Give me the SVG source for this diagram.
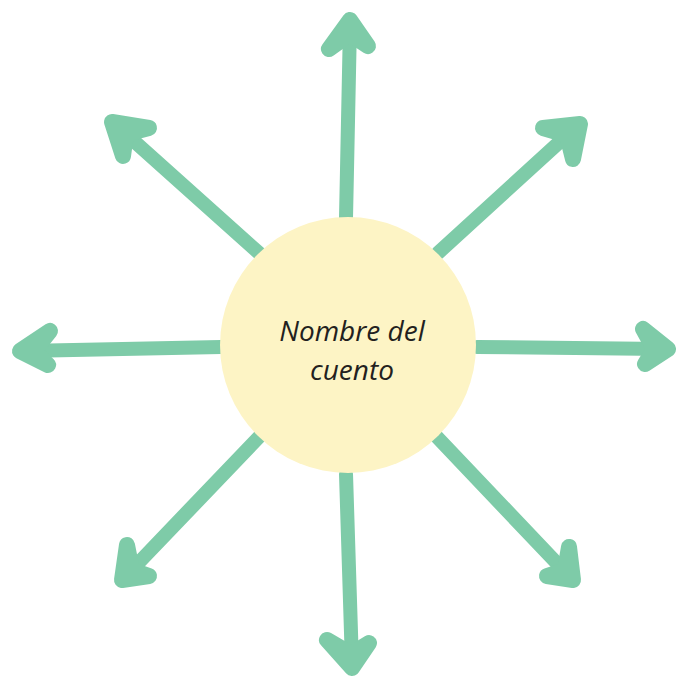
<svg xmlns="http://www.w3.org/2000/svg" width="676" height="679" viewBox="0 0 676 679">
<style>
.a{fill:none;stroke:#7ecba8;stroke-width:14;stroke-linecap:round;stroke-linejoin:round}
.h{fill:#7ecba8;stroke:#7ecba8;stroke-width:16;stroke-linecap:round;stroke-linejoin:round}
.t{font-family:"Open Sans","Liberation Sans",sans-serif;font-style:italic;font-size:28px;fill:#231f20;text-anchor:middle}
</style>
<rect width="676" height="679" fill="#ffffff"/>
<g id="connectors">
<path class="a" d="M346,218 L350,24"/><path class="h" d="M329,49 L350,20 L368,46 L350,34 Z"/>
<path class="a" d="M346,474 L352,664"/><path class="h" d="M327,640 L352,668 L369,643 L351,654 Z"/>
<path class="a" d="M221,347 L24,351"/><path class="h" d="M50,331 L20,351 L48,365 L34,351 Z"/>
<path class="a" d="M477,347 L664,349"/><path class="h" d="M643,329 L668,349 L645,364 L654,349 Z"/>
<path class="a" d="M259,253 L116,125"/><path class="h" d="M149,128 L112,122 L123,156 L126,134 Z"/>
<path class="a" d="M438,253 L576,127"/><path class="h" d="M543,128 L580,124 L573,159 L567,135 Z"/>
<path class="a" d="M259,437 L125,577"/><path class="h" d="M127,545 L122,580 L149,576 L132,570 Z"/>
<path class="a" d="M437,437 L570,577"/><path class="h" d="M569,547 L573,580 L547,576 L565,570 Z"/>
</g>
<g id="center">
<circle cx="348" cy="345" r="128" fill="#fdf4c5"/>
<text class="t" x="352" y="341">Nombre del</text>
<text class="t" x="352" y="380">cuento</text>
</g>
</svg>
